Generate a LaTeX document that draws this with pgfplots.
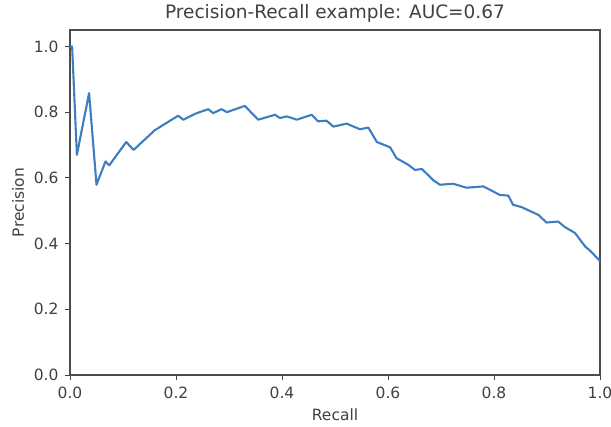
\documentclass[border=0pt]{standalone}
\usepackage{fontspec}
\setmainfont{DejaVu Sans}
\usepackage{pgfplots}
\pgfplotsset{compat=1.18}
\definecolor{mplblue}{RGB}{62,126,192}

\begin{document}
\begin{tikzpicture}
\useasboundingbox (-70pt,-52pt) rectangle (541pt,375pt);
\begin{axis}[
	at={(0pt,0pt)}, anchor=south west,
	scale only axis,
	width=530pt, height=345pt,
	xmin=0, xmax=1, ymin=0, ymax=1.05,
	xtick={0,0.2,...,1.0}, ytick={0,0.2,...,1.0},
	tick align=outside, tick pos=left,
	major tick length=5pt,
	tick style={black!75, line width=0.9pt},
	axis line style={black!70, line width=1.1pt},
	/pgf/number format/assume math mode=true,
	/pgf/number format/.cd, fixed, fixed zerofill, precision=1, /pgfplots/.cd,
	ticklabel style={font=\fontsize{15.5}{18}\selectfont, text=black!75},
	xticklabel style={yshift=-3pt},
	yticklabel style={xshift=-3pt},
	title={Precision-Recall example: AUC=0.67},
	title style={font=\fontsize{18.5}{22}\selectfont, text=black!75, at={(axis description cs:0.5,1.03)}, anchor=center},
	xlabel={Recall},
	ylabel={Precision},
	label style={font=\fontsize{15.5}{18}\selectfont, text=black!75},
	xlabel style={at={(axis description cs:0.5,-0.116)}, anchor=center},
	ylabel style={at={(axis description cs:-0.098,0.5)}, anchor=center},
]
% precision-recall curve
\addplot[color=mplblue, line width=2.1pt, line join=round] coordinates {
	(0.000,1.000)
	(0.004,1.000)
	(0.013,0.670)
	(0.036,0.858)
	(0.050,0.579)
	(0.067,0.650)
	(0.074,0.638)
	(0.106,0.709)
	(0.120,0.685)
	(0.160,0.745)
	(0.204,0.789)
	(0.214,0.777)
	(0.236,0.795)
	(0.261,0.809)
	(0.270,0.797)
	(0.286,0.809)
	(0.296,0.800)
	(0.330,0.819)
	(0.340,0.802)
	(0.355,0.777)
	(0.387,0.792)
	(0.396,0.782)
	(0.409,0.787)
	(0.428,0.777)
	(0.456,0.792)
	(0.468,0.772)
	(0.484,0.774)
	(0.497,0.756)
	(0.522,0.765)
	(0.535,0.756)
	(0.547,0.748)
	(0.563,0.753)
	(0.579,0.709)
	(0.604,0.693)
	(0.616,0.660)
	(0.638,0.640)
	(0.651,0.624)
	(0.664,0.627)
	(0.686,0.592)
	(0.698,0.579)
	(0.723,0.582)
	(0.748,0.570)
	(0.780,0.574)
	(0.811,0.548)
	(0.827,0.546)
	(0.836,0.518)
	(0.852,0.511)
	(0.884,0.487)
	(0.899,0.464)
	(0.921,0.467)
	(0.934,0.450)
	(0.953,0.432)
	(0.972,0.391)
	(0.981,0.379)
	(0.997,0.352)
	(1.000,0.345)
};
\end{axis}
\end{tikzpicture}
\end{document}
